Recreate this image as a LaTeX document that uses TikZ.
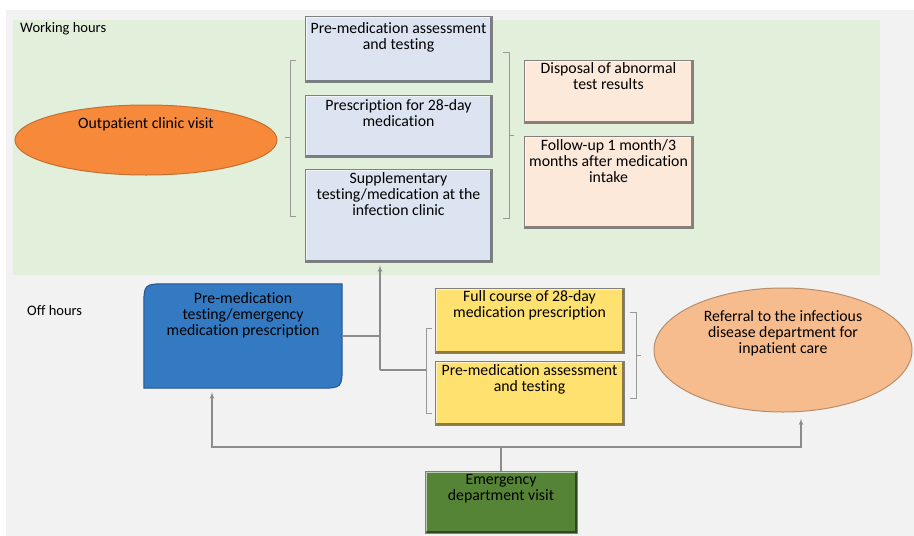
\documentclass[tikz,border=0pt]{standalone}
\usepackage{fontspec}
\setmainfont[Ligatures=NoCommon]{Carlito}
\usetikzlibrary{arrows,shapes,backgrounds}
\definecolor{bggray}{HTML}{F2F2F2}
\definecolor{workgreen}{HTML}{E2EFDA}
\definecolor{paleblue}{HTML}{DCE4F1}
\definecolor{palepeach}{HTML}{FCE9DA}
\definecolor{gold}{HTML}{FFE16F}
\definecolor{midblue}{HTML}{347AC2}
\definecolor{darkgreen}{HTML}{568436}
\definecolor{orangefill}{HTML}{F68A3A}
\definecolor{salmon}{HTML}{F7BC8E}
\definecolor{linegray}{HTML}{8C8C8C}

\begin{document}
\begin{tikzpicture}[x=1pt, y=-1pt, every node/.style={font=\fontsize{15.8}{15.9}\selectfont}]
	\tikzstyle{bevel} = [path picture={
		\draw[white, opacity=0.6, line width=3pt] (path picture bounding box.south west) -- (path picture bounding box.north west) -- (path picture bounding box.north east);
		\draw[black, opacity=0.45, line width=5pt] (path picture bounding box.north east) -- (path picture bounding box.south east) -- (path picture bounding box.south west);}]
	\tikzstyle{box} = [rectangle, draw=gray, line width=0.6pt, inner sep=0pt, bevel]
	\tikzstyle{txt} = [anchor=north, align=center, inner sep=0pt]
	\tikzstyle{oval} = [ellipse, inner sep=0pt, line width=1pt]
	\tikzstyle{line} = [draw=linegray, line width=1.2pt]
	\tikzstyle{arrow} = [line, -latex', shorten >=3pt]
	\tikzstyle{brace} = [draw=gray!80, line width=0.8pt]
	\tikzstyle{zone} = [font=\fontsize{14.5}{16}\selectfont, anchor=west, inner sep=0pt]

	\useasboundingbox (0,0) rectangle (914,536);
	% panels
	\begin{scope}[on background layer]
		\fill[white] (0,0) rectangle (914,536);
		\fill[bggray] (6,10) rectangle (914,536);
		\fill[workgreen] (13,20) rectangle (880,275);
	\end{scope}
	\node[zone] (work) at (20,28.5) {Working hours};
	\node[zone] (off) at (27,311) {Off hours};

	% working hours
	\node[oval, fill=orangefill, draw=orangefill!80!black, minimum width=262pt, minimum height=70pt, label={[txt, yshift=-13pt]north:Outpatient clinic visit}] (clinic) at (146,140) {};
	\node[box, fill=paleblue, minimum width=187pt, minimum height=66pt, label={[txt, yshift=-7pt]north:Pre-medication assessment\\and testing}] (assess) at (398.5,49) {};
	\node[box, fill=paleblue, minimum width=187pt, minimum height=62pt, label={[txt, yshift=-4.5pt]north:Prescription for 28-day\\medication}] (rx) at (398.5,126) {};
	\node[box, fill=paleblue, minimum width=187pt, minimum height=93pt, label={[txt, yshift=-4pt]north:Supplementary\\testing/medication at the\\infection clinic}] (supp) at (398.5,215.5) {};
	\node[box, fill=palepeach, minimum width=169pt, minimum height=63pt, label={[txt, yshift=-3pt]north:Disposal of abnormal\\test results}] (abnormal) at (608.5,91.5) {};
	\node[box, fill=palepeach, minimum width=169pt, minimum height=92pt, label={[txt, yshift=-4pt]north:Follow-up 1 month/3\\months after medication\\intake}] (follow) at (608.5,182) {};
	\draw[brace] (296,60) -- (290,60) -- (290,216) -- (296,216) (290,137) -- (285,137);
	\draw[brace] (503,52) -- (509,52) -- (509,218) -- (503,218) (509,135) -- (514,135);

	% off hours
	\node[rectangle, minimum width=198pt, minimum height=104pt, label={[txt, yshift=-9pt]north:Pre-medication\\testing/emergency\\medication prescription}] (pretest) at (243,336) {};
	\begin{scope}[on background layer]
		\filldraw[fill=midblue, draw=midblue!70!black, line width=1pt] (pretest.south west) -- ([yshift=-24pt]pretest.north west) .. controls (pretest.north west) .. ([xshift=24pt]pretest.north west) -- (pretest.north east) -- ([yshift=24pt]pretest.south east) .. controls (pretest.south east) .. ([xshift=-24pt]pretest.south east) -- cycle;
	\end{scope}
	\node[box, fill=gold, minimum width=189pt, minimum height=65pt, label={[txt, yshift=-3pt]north:Full course of 28-day\\medication prescription}] (fullrx) at (529.5,320.5) {};
	\node[box, fill=gold, minimum width=189pt, minimum height=64pt, label={[txt, yshift=-3.5pt]north:Pre-medication assessment\\and testing}] (assess2) at (529.5,393) {};
	\node[oval, fill=salmon, draw=salmon!75!black, minimum width=258pt, minimum height=124pt, label={[txt, yshift=-23pt]north:Referral to the infectious\\disease department for\\inpatient care}] (refer) at (783,350) {};
	\node[box, fill=darkgreen, minimum width=152pt, minimum height=62pt, label={[txt, yshift=-3.5pt]north:Emergency\\department visit}] (ed) at (501,502) {};
	\draw[brace] (432,328) -- (426,328) -- (426,413) -- (432,413);
	\draw[brace] (630,312) -- (636,312) -- (636,398) -- (630,398) (636,355) -- (641,355);

	% connectors
	\coordinate (br3) at (426,370);
	\coordinate (jn) at (380,370);
	\coordinate (edj) at (501,447);
	\draw[line] (br3) -- (jn);
	\draw[arrow] (jn) -- (jn |- supp.south);
	\draw[line] (pretest.east) -- (pretest.east -| jn);
	\draw[line] (ed.north) -- (edj);
	\draw[arrow, shorten >=4pt] (edj) -| ([xshift=-31pt]pretest.south);
	\draw[arrow, shorten >=6pt] (edj) -| ([xshift=18pt]refer.south);
\end{tikzpicture}
\end{document}
